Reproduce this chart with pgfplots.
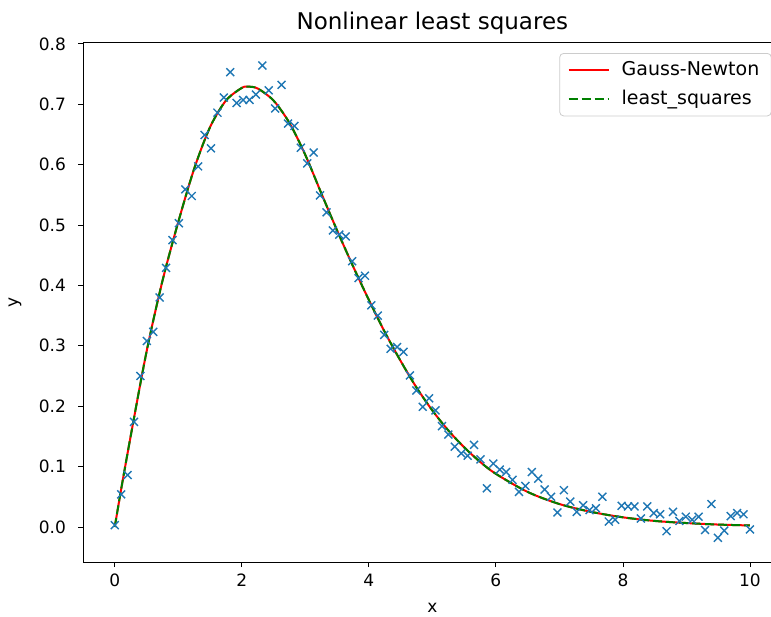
\documentclass[border=0pt]{standalone}
\usepackage{fontspec}
\setmainfont{DejaVu Sans}
\usepackage{pgfplots}
\pgfplotsset{compat=1.18}
\definecolor{mplblue}{HTML}{1F77B4}
\definecolor{mplgreen}{HTML}{008000}
\definecolor{mplred}{HTML}{FF0000}
\begin{document}
\begin{tikzpicture}
\begin{axis}[
  at={(0,0)}, anchor=south west,
  scale only axis, width=349.35pt, height=260pt,
  xmin=-0.5, xmax=10.5, ymin=-0.058, ymax=0.803,
  xtick={0,2,4,6,8,10},
  ytick={0,0.1,0.2,0.3,0.4,0.5,0.6,0.7,0.8},
  tick pos=left, tick align=outside, major tick length=2.5pt,
  tick style={black, line width=0.4pt},
  axis line style={line width=0.45pt},
  yticklabel style={xshift=-2.5pt, /pgf/number format/.cd, fixed, fixed zerofill, precision=1},
  /pgf/number format/assume math mode=true,
  ticklabel style={font=\fontsize{8.5pt}{10pt}\selectfont},
  xlabel={x}, ylabel={y},
  label style={font=\fontsize{8.5pt}{10pt}\selectfont},
  xlabel style={at={(axis description cs:0.5,0)}, anchor=center, yshift=-23pt},
  ylabel style={at={(axis description cs:0,0.5)}, anchor=center, yshift=34pt},
  title={Nonlinear least squares},
  title style={at={(axis description cs:0.5,1)}, anchor=base, yshift=0.5pt, font=\fontsize{11.5pt}{13pt}\selectfont},
  legend style={at={(axis description cs:1,1)}, anchor=north east, xshift=-5pt, yshift=-5.5pt,
    draw=black!20, rounded corners=2pt, font=\fontsize{9.5pt}{11pt}\selectfont,
    inner sep=2pt, inner xsep=4pt, row sep=2pt,
    /tikz/every odd column/.append style={column sep=4pt}},
  legend cell align=left,
  legend image code/.code={\draw[#1] (0pt,0pt) -- (20pt,0pt);},
]
\addplot[only marks, mark=x, mark size=2.8pt, mplblue, mark options={line width=0.7pt}, forget plot] coordinates {
(0.0000,0.003) (0.1010,0.054) (0.2020,0.086) (0.3030,0.174) (0.4040,0.250)
(0.5051,0.308) (0.6061,0.323) (0.7071,0.380) (0.8081,0.429) (0.9091,0.475)
(1.0101,0.503) (1.1111,0.559) (1.2121,0.548) (1.3131,0.597) (1.4141,0.649)
(1.5152,0.627) (1.6162,0.686) (1.7172,0.711) (1.8182,0.753) (1.9192,0.702)
(2.0202,0.707) (2.1212,0.707) (2.2222,0.716) (2.3232,0.764) (2.4242,0.723)
(2.5253,0.693) (2.6263,0.732) (2.7273,0.668) (2.8283,0.664) (2.9293,0.628)
(3.0303,0.602) (3.1313,0.620) (3.2323,0.549) (3.3333,0.521) (3.4343,0.491)
(3.5354,0.484) (3.6364,0.481) (3.7374,0.440) (3.8384,0.412) (3.9394,0.416)
(4.0404,0.367) (4.1414,0.350) (4.2424,0.318) (4.3434,0.295) (4.4444,0.298)
(4.5455,0.290) (4.6465,0.251) (4.7475,0.226) (4.8485,0.199) (4.9495,0.213)
(5.0505,0.193) (5.1515,0.167) (5.2525,0.153) (5.3535,0.133) (5.4545,0.122)
(5.5556,0.118) (5.6566,0.136) (5.7576,0.112) (5.8586,0.064) (5.9596,0.105)
(6.0606,0.095) (6.1616,0.091) (6.2626,0.078) (6.3636,0.058) (6.4646,0.068)
(6.5657,0.091) (6.6667,0.080) (6.7677,0.062) (6.8687,0.050) (6.9697,0.024)
(7.0707,0.061) (7.1717,0.042) (7.2727,0.025) (7.3737,0.036) (7.4747,0.028)
(7.5758,0.031) (7.6768,0.050) (7.7778,0.009) (7.8788,0.012) (7.9798,0.035)
(8.0808,0.034) (8.1818,0.034) (8.2828,0.014) (8.3838,0.034) (8.4848,0.023)
(8.5859,0.021) (8.6869,-0.007) (8.7879,0.025) (8.8889,0.010) (8.9899,0.017)
(9.0909,0.012) (9.1919,0.017) (9.2929,-0.005) (9.3939,0.038) (9.4949,-0.018)
(9.5960,-0.006) (9.6970,0.018) (9.7980,0.023) (9.8990,0.021) (10.0000,-0.004)
};
\addplot[mplred, line width=1pt, smooth] coordinates {
(0,0) (0.1,0.062) (0.25,0.150) (0.5,0.290) (0.75,0.407) (1.0,0.505)
(1.25,0.593) (1.5,0.662) (1.75,0.706) (2.0,0.727) (2.1,0.729) (2.25,0.726)
(2.5,0.706) (2.75,0.669) (3.0,0.616) (3.25,0.553) (3.5,0.491) (3.75,0.432)
(4.0,0.376) (4.25,0.323) (4.5,0.275) (4.75,0.231) (5.0,0.193) (5.25,0.160)
(5.5,0.132) (5.75,0.108) (6.0,0.088) (6.5,0.058) (7.0,0.038) (7.5,0.025)
(8.0,0.016) (8.5,0.010) (9.0,0.0065) (9.5,0.004) (10.0,0.0025)
};
\addlegendentry{Gauss-Newton}
\addplot[mplgreen, line width=1pt, smooth, dash pattern=on 4.5pt off 2pt] coordinates {
(0,0) (0.1,0.062) (0.25,0.150) (0.5,0.290) (0.75,0.407) (1.0,0.505)
(1.25,0.593) (1.5,0.662) (1.75,0.706) (2.0,0.727) (2.1,0.729) (2.25,0.726)
(2.5,0.706) (2.75,0.669) (3.0,0.616) (3.25,0.553) (3.5,0.491) (3.75,0.432)
(4.0,0.376) (4.25,0.323) (4.5,0.275) (4.75,0.231) (5.0,0.193) (5.25,0.160)
(5.5,0.132) (5.75,0.108) (6.0,0.088) (6.5,0.058) (7.0,0.038) (7.5,0.025)
(8.0,0.016) (8.5,0.010) (9.0,0.0065) (9.5,0.004) (10.0,0.0025)
};
\addlegendentry{least\_squares}
\end{axis}
\pgfresetboundingbox
\useasboundingbox (-41.5pt,-27pt) rectangle (344pt,281pt);
\end{tikzpicture}
\end{document}
